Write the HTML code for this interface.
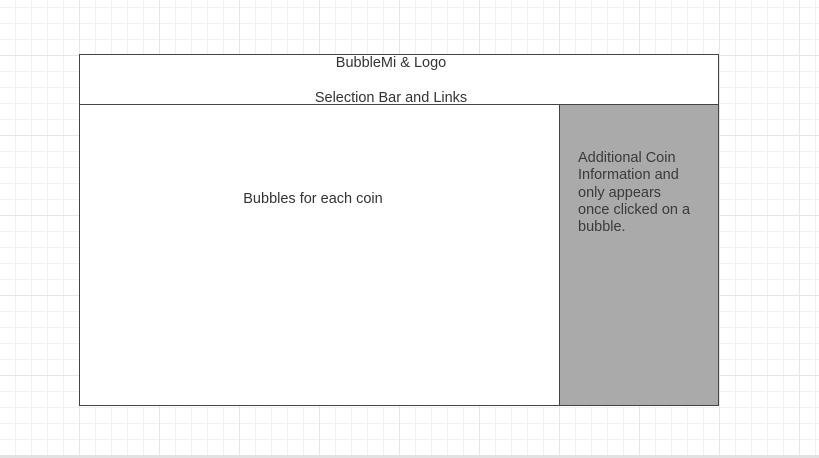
<!DOCTYPE html>
<html><head><style>
html,body{margin:0;padding:0;}
body{width:819px;height:458px;position:relative;overflow:hidden;background:#fff;
background-image:
linear-gradient(to right,#e6e6e6 1px,transparent 1px),
linear-gradient(to bottom,#e6e6e6 1px,transparent 1px),
linear-gradient(to right,#f1f1f1 1px,transparent 1px),
linear-gradient(to bottom,#f1f1f1 1px,transparent 1px);
background-size:80px 80px,80px 80px,16px 16px,16px 16px;
background-position:79px 0,0 55px,15px 0,0 7px;
font-family:"Liberation Sans",Arial,sans-serif;font-size:14.5px;color:#333;}
.b{position:absolute;box-sizing:border-box;border:1px solid #444;}
.t{position:absolute;white-space:nowrap;line-height:17px;}
</style></head><body>
<div class="b" style="left:79px;top:54px;width:640px;height:52px;background:#fff"></div>
<div class="b" style="left:79px;top:104px;width:481px;height:302px;background:#fff"></div>
<div class="b" style="left:559px;top:104px;width:160px;height:302px;background:#aaa"></div>
<div class="t" style="left:191px;width:400px;text-align:center;top:55px">BubbleMi &amp; Logo</div>
<div class="t" style="left:191px;width:400px;text-align:center;top:90px">Selection Bar and Links</div>
<div class="t" style="left:113px;width:400px;text-align:center;top:191px">Bubbles for each coin</div>
<div class="t" style="left:578px;top:150px;line-height:17.3px;color:#3a3a3a">Additional Coin<br>Information and<br>only appears<br>once clicked on a<br>bubble.</div>
<div style="position:absolute;left:0;top:455px;width:819px;height:3px;background:#e2e2e2"></div>
</body></html>
